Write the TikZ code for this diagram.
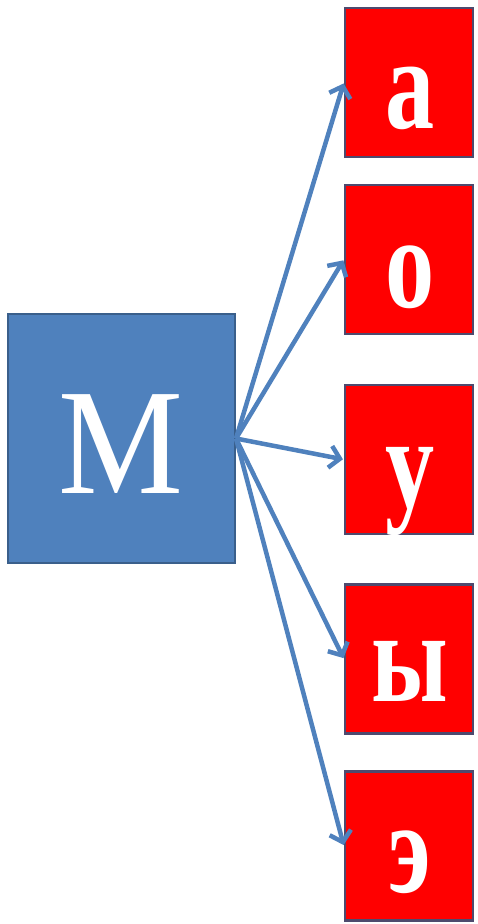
\documentclass[tikz,border=0pt]{standalone}
\usepackage{fontspec}
\setmainfont{Liberation Serif}
\newfontfamily\lserif{Liberation Serif}
\usetikzlibrary{arrows.meta}
\definecolor{pblue}{HTML}{4F81BD}
\definecolor{pblueline}{HTML}{3A5F8B}
\definecolor{redline}{HTML}{4E4A6E}
\tikzset{
  bluebox/.style={draw=pblueline, line width=2pt, fill=pblue, minimum width=227pt, minimum height=249pt, inner sep=0pt},
  redbox/.style={draw=redline, line width=2.2pt, fill=red, minimum width=128pt, minimum height=149pt, inner sep=0pt},
  bigletter/.style={text=white, anchor=base, inner sep=0pt, font=\lserif},
  conn/.style={draw=pblue, line width=4.5pt, -{Straight Barb[length=10pt,width=22pt,line width=4.5pt]}, shorten >=1pt}
}
\begin{document}
\begin{tikzpicture}[x=1pt,y=-1pt]
\useasboundingbox[fill=white] (0,0) rectangle (477,924);
\node[bluebox] (m) at (121.5,438.5) {};
\node[redbox] (a) at (409,82.5) {};
\node[redbox] (o) at (409,259.5) {};
\node[redbox] (u) at (409,459.5) {};
\node[redbox] (y) at (409,659) {};
\node[redbox] (e) at (409,846) {};
\node[bigletter] (mt) at (121,493) {\fontsize{151}{151}\selectfont\scalebox{0.93}[1]{М}};
\node[bigletter] (at) at (410,128) {\fontsize{131}{131}\selectfont\bfseries\scalebox{0.75}[1]{а}};
\node[bigletter] (ot) at (410,307) {\fontsize{131}{131}\selectfont\bfseries\scalebox{0.75}[1]{о}};
\node[bigletter] (ut) at (410,507) {\fontsize{131}{131}\selectfont\bfseries\scalebox{0.75}[1]{у}};
\node[bigletter] (yt) at (410,701) {\fontsize{131}{131}\selectfont\bfseries\scalebox{0.75}[1]{ы}};
\node[bigletter] (et) at (410,892) {\fontsize{131}{131}\selectfont\bfseries\scalebox{0.75}[1]{э}};
\coordinate (src) at (m.east);
\draw[conn] (src) -- (a.west);
\draw[conn] (src) -- (o.west);
\draw[conn] (src) -- (u.west);
\draw[conn] (src) -- (y.west);
\draw[conn] (src) -- (e.west);
\end{tikzpicture}
\end{document}
